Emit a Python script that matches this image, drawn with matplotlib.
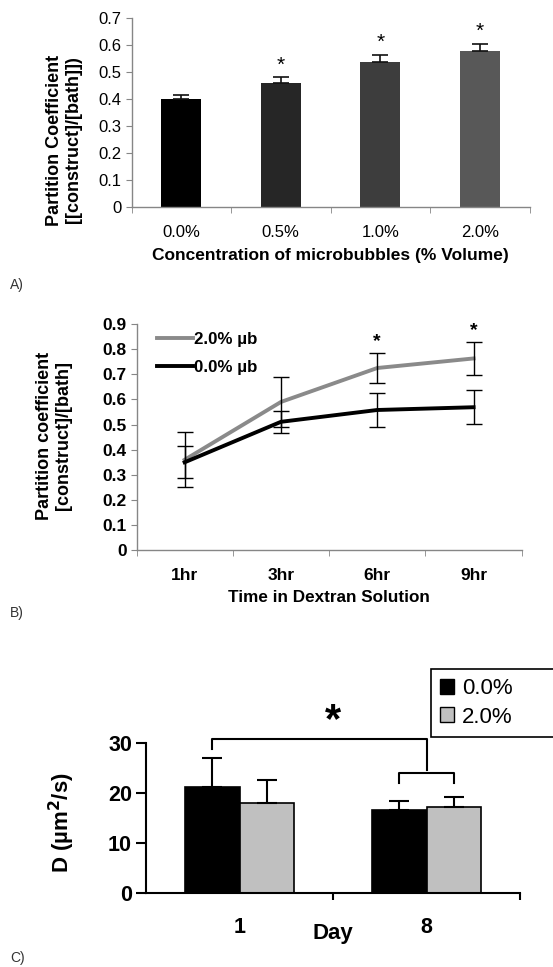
import matplotlib
matplotlib.use("Agg")
import matplotlib.pyplot as plt
from matplotlib.patches import Patch
from matplotlib.lines import Line2D
import numpy as np

plt.rcParams['font.family'] = ['Liberation Sans', 'DejaVu Sans']

# ---------- data ----------
# Panel A
a_categories = ["0.0%", "0.5%", "1.0%", "2.0%"]
a_values = [0.400, 0.461, 0.539, 0.577]
a_errors = [0.016, 0.021, 0.025, 0.028]
a_sig = [False, True, True, True]
a_colors = ["#000000", "#262626", "#3d3d3d", "#585858"]

# Panel B
b_times = ["1hr", "3hr", "6hr", "9hr"]
b_mb2 = [0.360, 0.590, 0.725, 0.763]
b_mb2_err = [0.110, 0.100, 0.058, 0.066]
b_mb0 = [0.350, 0.511, 0.558, 0.569]
b_mb0_err = [0.063, 0.043, 0.069, 0.068]
b_sig = [False, False, True, True]

# Panel C
c_days = ["1", "8"]
c_mb0 = [21.1, 16.6]
c_mb0_err = [5.9, 1.8]
c_mb2 = [18.0, 17.2]
c_mb2_err = [4.5, 1.9]

W, H = 553, 967
fig = plt.figure(figsize=(W / 100, H / 100), dpi=100)


def rect(left, right, top, bottom):
    return [left / W, 1 - bottom / H, (right - left) / W, (bottom - top) / H]


AX_GRAY = "#868686"

# ---------- Panel A ----------
axA = fig.add_axes(rect(131.5, 529.6, 18.3, 207))
xa = np.arange(len(a_categories))
axA.bar(xa, a_values, width=0.4, color=a_colors, zorder=2)
axA.errorbar(xa, a_values, yerr=[np.zeros(len(a_errors)), a_errors], fmt='none',
             ecolor="#111111", elinewidth=1.2, capsize=5.5, capthick=1.2, zorder=3)
for i, s in enumerate(a_sig):
    if s:
        axA.text(xa[i], a_values[i] + a_errors[i] + 0.010, "*", ha='center', va='bottom',
                 fontsize=15, fontweight='normal')
axA.set_xlim(-0.5, 3.5)
axA.set_ylim(0, 0.7)
axA.set_yticks(np.arange(0, 0.71, 0.1))
axA.set_yticklabels(["0", "0.1", "0.2", "0.3", "0.4", "0.5", "0.6", "0.7"])
axA.set_xticks(xa)
axA.set_xticklabels(a_categories)
axA.set_xticks(np.arange(-0.5, 3.6, 1), minor=True)
axA.tick_params(axis='x', which='major', length=0, pad=13, labelsize=12)
axA.tick_params(axis='x', which='minor', length=4, color=AX_GRAY, direction='out')
axA.tick_params(axis='y', length=4, color=AX_GRAY, labelsize=12, pad=3)
for sp in ['top', 'right']:
    axA.spines[sp].set_visible(False)
for sp in ['left', 'bottom']:
    axA.spines[sp].set_color(AX_GRAY)
    axA.spines[sp].set_linewidth(1.0)
axA.set_xlabel("Concentration of microbubbles (% Volume)", fontsize=12.5,
               fontweight='bold', labelpad=6)
fig.text(64 / W, 1 - 140 / H, "Partition Coefficient\n[[construct]/[bath]])", rotation=90,
         ha='center', va='center', fontsize=13, fontweight='bold', multialignment='center',
         linespacing=1.15)
fig.text(10 / W, 1 - 285 / H, "A)", fontsize=10, color="#333333", ha='left', va='center')

# ---------- Panel B ----------
axB = fig.add_axes(rect(136.5, 521.7, 324, 550.3))
xb = np.arange(len(b_times))
axB.plot(xb, b_mb2, color="#8a8a8a", lw=2.8, zorder=2, label="2.0% µb")
axB.plot(xb, b_mb0, color="#000000", lw=2.8, zorder=2, label="0.0% µb")
axB.errorbar(xb, b_mb2, yerr=b_mb2_err, fmt='none', ecolor='black', elinewidth=1.0,
             capsize=6, capthick=1.0, zorder=3)
axB.errorbar(xb, b_mb0, yerr=b_mb0_err, fmt='none', ecolor='black', elinewidth=1.0,
             capsize=6, capthick=1.0, zorder=3)
for i, s in enumerate(b_sig):
    if s:
        axB.text(xb[i], b_mb2[i] + b_mb2_err[i] + 0.012, "*", ha='center', va='bottom',
                 fontsize=14, fontweight='bold')
axB.set_xlim(-0.5, 3.5)
axB.set_ylim(0, 0.9)
axB.set_yticks(np.arange(0, 0.91, 0.1))
axB.set_yticklabels(["0", "0.1", "0.2", "0.3", "0.4", "0.5", "0.6", "0.7", "0.8", "0.9"],
                    fontweight='bold')
axB.set_xticks(xb)
axB.set_xticklabels(b_times, fontweight='bold')
axB.set_xticks(np.arange(-0.5, 3.6, 1), minor=True)
axB.tick_params(axis='x', which='major', length=0, pad=13, labelsize=12.5)
axB.tick_params(axis='x', which='minor', length=4, color=AX_GRAY, direction='out')
axB.tick_params(axis='y', length=4, color=AX_GRAY, labelsize=12.5, pad=3)
for sp in ['top', 'right']:
    axB.spines[sp].set_visible(False)
for sp in ['left', 'bottom']:
    axB.spines[sp].set_color(AX_GRAY)
    axB.spines[sp].set_linewidth(1.0)
axB.set_xlabel("Time in Dextran Solution", fontsize=12.3, fontweight='bold', labelpad=5)
fig.text(54 / W, 1 - 436 / H, "Partition coefficient\n[construct]/[bath]", rotation=90,
         ha='center', va='center', fontsize=13, fontweight='bold', multialignment='center',
         linespacing=1.15)
legB = axB.legend(loc='upper left', bbox_to_anchor=(157 / W, 1 - 332 / H),
                  bbox_transform=fig.transFigure, frameon=False, handlelength=2.1,
                  handletextpad=0.1, labelspacing=0.75, borderpad=0, borderaxespad=0,
                  prop={'size': 12.2, 'weight': 'bold'})
fig.text(10 / W, 1 - 613 / H, "B)", fontsize=10, color="#333333", ha='left', va='center')

# ---------- Panel C ----------
axC = fig.add_axes(rect(146, 520, 742.7, 893.3))
xc = np.arange(len(c_days))
bw = 0.29
axC.bar(xc - bw / 2, c_mb0, width=bw, color='black', edgecolor='black', lw=1.2, zorder=2,
        label="0.0%")
axC.bar(xc + bw / 2, c_mb2, width=bw, color='#c0c0c0', edgecolor='black', lw=1.2, zorder=2,
        label="2.0%")
axC.errorbar(xc - bw / 2, c_mb0, yerr=[np.zeros(2), c_mb0_err], fmt='none', ecolor='black',
             elinewidth=1.5, capsize=7, capthick=1.5, zorder=3)
axC.errorbar(xc + bw / 2, c_mb2, yerr=[np.zeros(2), c_mb2_err], fmt='none', ecolor='black',
             elinewidth=1.5, capsize=7, capthick=1.5, zorder=3)
axC.set_xlim(-0.5, 1.5)
axC.set_ylim(0, 30)
axC.set_yticks([0, 10, 20, 30])
axC.set_yticklabels(["0", "10", "20", "30"], fontweight='bold')
axC.set_xticks(xc)
axC.set_xticklabels(c_days, fontweight='bold')
axC.set_xticks([0.5, 1.5], minor=True)
axC.tick_params(axis='x', which='major', length=0, pad=17, labelsize=15.5)
axC.tick_params(axis='x', which='minor', length=5, width=1.5, color='black', direction='out')
axC.tick_params(axis='y', length=7, width=1.5, color='black', labelsize=15.5, pad=3)
for sp in ['top', 'right']:
    axC.spines[sp].set_visible(False)
for sp in ['left', 'bottom']:
    axC.spines[sp].set_color('black')
    axC.spines[sp].set_linewidth(1.5)

# significance brackets
big_left = xc[0] - bw / 2
big_right = xc[1]
axC.plot([big_left, big_left, big_right, big_right], [28.7, 30.7, 30.7, 24.5],
         color='black', lw=1.5, clip_on=False, zorder=4)
axC.plot([xc[1] - bw / 2, xc[1] - bw / 2, xc[1] + bw / 2, xc[1] + bw / 2],
         [22.0, 24.0, 24.0, 22.0], color='black', lw=1.5, clip_on=False, zorder=4)
axC.text(0.5, 34.3, "*", ha='center', va='center', fontsize=30, fontweight='bold')

fig.text(333 / W, 1 - 933 / H, "Day", ha='center', va='center', fontsize=16,
         fontweight='bold')
fig.text(62 / W, 1 - 823 / H, "D (µm$^{\\mathbf{2}}$/s)", rotation=90, ha='center',
         va='center', fontsize=16, fontweight='bold')
handles = [Patch(facecolor='black', edgecolor='black', lw=1.0),
           Patch(facecolor='#c0c0c0', edgecolor='black', lw=1.0)]
legC = fig.legend(handles, ["0.0%", "2.0%"], loc='upper left',
                  bbox_to_anchor=(431 / W, 1 - 729 / H, 140 / W, 60 / H), mode='expand',
                  frameon=True, fancybox=False,
                  edgecolor='black', framealpha=1, handlelength=0.65, handleheight=0.65,
                  handletextpad=0.35, labelspacing=0.35, borderpad=0.4, borderaxespad=0,
                  prop={'size': 16})
legC.get_frame().set_linewidth(1.2)
fig.text(10 / W, 1 - 958 / H, "C)", fontsize=10, color="#333333", ha='left', va='center')

fig.savefig("out.png", dpi=100)
